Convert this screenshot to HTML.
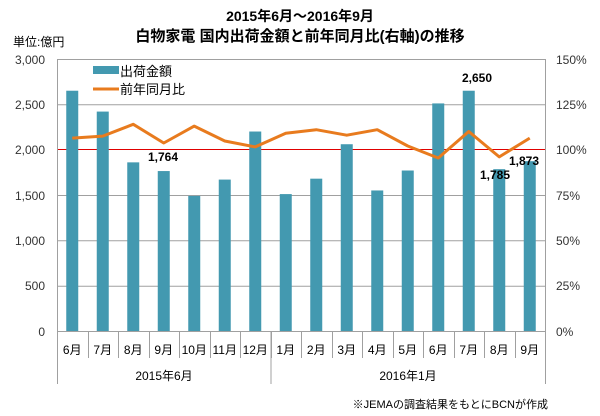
<!DOCTYPE html><html><head><meta charset="utf-8"><style>body{margin:0;background:#fff}svg{display:block}text{font-family:"Liberation Sans","Noto Sans CJK JP",sans-serif}</style></head><body>
<svg width="600" height="416" xmlns="http://www.w3.org/2000/svg">
<rect width="600" height="416" fill="#fff"/>
<text x="300" y="21" text-anchor="middle" font-size="14" font-weight="bold">2015年6月～2016年9月</text>
<text x="300" y="41" text-anchor="middle" font-size="15" font-weight="bold">白物家電 国内出荷金額と前年同月比(右軸)の推移</text>
<text x="13" y="46" font-size="12">単位:億円</text>
<g stroke="#a0a0a0" stroke-width="1">
<line x1="57" y1="59.5" x2="545" y2="59.5"/><line x1="57" y1="104.8" x2="545" y2="104.8"/><line x1="57" y1="240.8" x2="545" y2="240.8"/><line x1="57" y1="195.5" x2="545" y2="195.5"/><line x1="57" y1="286.2" x2="545" y2="286.2"/>
</g>
<line x1="57" y1="149.5" x2="545" y2="149.5" stroke="#e00000"/>
<g fill="#4399b0" id="bars"></g>
<g stroke="#a0a0a0">
<line x1="57.5" y1="59" x2="57.5" y2="384"/><line x1="545.5" y1="59" x2="545.5" y2="384"/><line x1="57" y1="331.5" x2="545" y2="331.5"/>
<line x1="271" y1="331" x2="271" y2="384"/>
</g>
<g id="seps" stroke="#a0a0a0"></g>
<g font-size="12" fill="#333" text-anchor="end">
<text x="45" y="64">3,000</text><text x="45" y="109">2,500</text><text x="45" y="154">2,000</text><text x="45" y="200">1,500</text><text x="45" y="245">1,000</text><text x="45" y="290">500</text><text x="45" y="336">0</text>
</g>
<g font-size="12" fill="#333">
<text x="556" y="64">150%</text><text x="556" y="109">125%</text><text x="556" y="154">100%</text><text x="556" y="200">75%</text><text x="556" y="245">50%</text><text x="556" y="290">25%</text><text x="556" y="336">0%</text>
</g>
<g id="xl" font-size="12" text-anchor="middle"></g>
<text x="164" y="380" font-size="12" text-anchor="middle">2015年6月</text>
<text x="408" y="380" font-size="12" text-anchor="middle">2016年1月</text>
<polyline id="ln" fill="none" stroke="#e87b1e" stroke-width="3" stroke-linejoin="round"/>
<g font-size="12" font-weight="bold">
<text x="148" y="161">1,764</text><text x="462" y="82">2,650</text><text x="480" y="179">1,785</text><text x="509" y="165">1,873</text>
</g>
<rect x="93" y="66" width="26" height="8" fill="#4399b0"/><text x="120" y="76" font-size="13">出荷金額</text>
<line x1="93" y1="89" x2="119" y2="89" stroke="#e87b1e" stroke-width="3"/><text x="120" y="94" font-size="13">前年同月比</text>
<text x="548" y="408" font-size="11" text-anchor="end">※JEMAの調査結果をもとにBCNが作成</text>
<script>
var v=[2650,2420,1860,1764,1490,1670,2200,1510,1680,2060,1550,1770,2510,2650,1785,1873];
var p=[106.4,107.5,114,103.7,113,104.8,101.5,109,111,108,111,102,95.4,110,96,106.4];
var lab=["6月","7月","8月","9月","10月","11月","12月","1月","2月","3月","4月","5月","6月","7月","8月","9月"];
var ns="http://www.w3.org/2000/svg",b=document.getElementById("bars"),s=document.getElementById("seps"),xl=document.getElementById("xl"),pts=[];
for(var i=0;i<16;i++){var cx=57+30.5*(i+0.5);var y=331-v[i]*0.09067;
var r=document.createElementNS(ns,"rect");r.setAttribute("x",cx-6);r.setAttribute("y",y);r.setAttribute("width",12);r.setAttribute("height",331-y);b.appendChild(r);
if(i>0){var l=document.createElementNS(ns,"line");var xx=Math.round(57+30.5*i)+0.5;l.setAttribute("x1",xx);l.setAttribute("x2",xx);l.setAttribute("y1",331);l.setAttribute("y2",358);s.appendChild(l);}
var t=document.createElementNS(ns,"text");t.setAttribute("x",cx);t.setAttribute("y",354);t.textContent=lab[i];xl.appendChild(t);
pts.push(cx+","+(331-p[i]*272/150).toFixed(1));}
document.getElementById("ln").setAttribute("points",pts.join(" "));
</script>
</svg></body></html>
